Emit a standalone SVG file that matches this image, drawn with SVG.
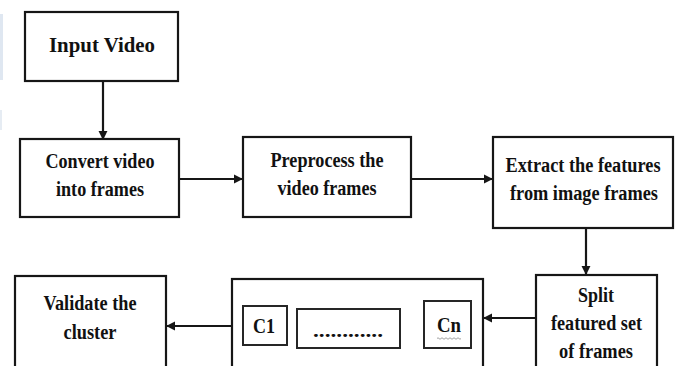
<svg xmlns="http://www.w3.org/2000/svg" width="680" height="366" viewBox="0 0 680 366">
  <style>
    .box { fill: #ffffff; stroke: #161616; stroke-width: 2.2; }
    .inner { fill: #ffffff; stroke: #262626; stroke-width: 2; }
    .lbl { font-family: 'Liberation Serif', 'DejaVu Serif', 'Noto Serif', serif; font-weight: bold; fill: #111111; text-anchor: middle; }
    .edge { fill: none; stroke: #161616; stroke-width: 2.2; }
  </style>
  <defs>
    <marker id="arrow" viewBox="0 0 10 10" refX="9" refY="5" markerWidth="4.2" markerHeight="4.2" orient="auto" markerUnits="strokeWidth">
      <path d="M0,0 L10,5 L0,10 z" fill="#161616"/>
    </marker>
  </defs>

  <rect width="680" height="366" fill="#ffffff"/>
  <!-- faint edge strip at the far left -->
  <rect x="0" y="14" width="3" height="66" fill="#dfe7f1"/>
  <rect x="0" y="110" width="2" height="20" fill="#e6ecf3"/>

  <g id="connectors">
    <line class="edge" x1="103" y1="81" x2="103" y2="139" marker-end="url(#arrow)"/>
    <line class="edge" x1="180" y1="179" x2="242" y2="179" marker-end="url(#arrow)"/>
    <line class="edge" x1="411" y1="179" x2="492" y2="179" marker-end="url(#arrow)"/>
    <line class="edge" x1="586" y1="228" x2="586" y2="274" marker-end="url(#arrow)"/>
    <line class="edge" x1="536" y1="318" x2="484" y2="318" marker-end="url(#arrow)"/>
    <line class="edge" x1="232" y1="326" x2="167" y2="326" marker-end="url(#arrow)"/>
  </g>

  <g id="input-video">
    <rect class="box" x="25" y="12" width="153" height="69"/>
    <text class="lbl" x="102" y="52" font-size="22" textLength="106" lengthAdjust="spacingAndGlyphs">Input Video</text>
  </g>

  <g id="convert-frames">
    <rect class="box" x="20" y="139" width="159" height="78"/>
    <text class="lbl" x="100" y="168" font-size="20.5" textLength="109" lengthAdjust="spacingAndGlyphs">Convert video</text>
    <text class="lbl" x="100" y="196" font-size="20.5" textLength="88" lengthAdjust="spacingAndGlyphs">into frames</text>
  </g>

  <g id="preprocess">
    <rect class="box" x="243" y="137" width="168" height="80"/>
    <text class="lbl" x="327" y="167" font-size="20.5" textLength="113" lengthAdjust="spacingAndGlyphs">Preprocess the</text>
    <text class="lbl" x="327" y="195" font-size="20.5" textLength="99" lengthAdjust="spacingAndGlyphs">video frames</text>
  </g>

  <g id="extract-features">
    <rect class="box" x="493" y="137" width="180" height="91"/>
    <text class="lbl" x="583" y="172" font-size="20" textLength="155" lengthAdjust="spacingAndGlyphs">Extract the features</text>
    <text class="lbl" x="584" y="200" font-size="20" textLength="148" lengthAdjust="spacingAndGlyphs">from image frames</text>
  </g>

  <g id="split-frames">
    <rect class="box" x="536" y="275" width="121" height="100"/>
    <text class="lbl" x="596" y="302" font-size="20" textLength="36" lengthAdjust="spacingAndGlyphs">Split</text>
    <text class="lbl" x="596.5" y="330" font-size="20" textLength="91" lengthAdjust="spacingAndGlyphs">featured set</text>
    <text class="lbl" x="596" y="358" font-size="20" textLength="74" lengthAdjust="spacingAndGlyphs">of frames</text>
  </g>

  <g id="clusters">
    <rect class="box" x="232" y="279" width="251" height="96"/>
    <g id="cluster-c1">
      <rect class="inner" x="243" y="306" width="44" height="39"/>
      <text class="lbl" x="264" y="333" font-size="20.5" textLength="22" lengthAdjust="spacingAndGlyphs">C1</text>
    </g>
    <g id="cluster-more">
      <rect class="inner" x="297" y="309" width="103" height="39"/>
      <text class="lbl" x="348" y="337" font-size="18" textLength="70" lengthAdjust="spacingAndGlyphs">............</text>
    </g>
    <g id="cluster-cn">
      <rect class="inner" x="424" y="301" width="47" height="47"/>
      <text class="lbl" x="449" y="332" font-size="20.5" textLength="24" lengthAdjust="spacingAndGlyphs">Cn</text>
      <path d="M437,338.5 q1,-1.5 2,0 t2,0 t2,0 t2,0 t2,0 t2,0 t2,0 t2,0 t2,0 t2,0 t2,0 t2,0" fill="none" stroke="#8a8a8a" stroke-width="0.8"/>
    </g>
  </g>

  <g id="validate-cluster">
    <rect class="box" x="15" y="276" width="151" height="99"/>
    <text class="lbl" x="90" y="310" font-size="20" textLength="93" lengthAdjust="spacingAndGlyphs">Validate the</text>
    <text class="lbl" x="90" y="339" font-size="20" textLength="53" lengthAdjust="spacingAndGlyphs">cluster</text>
  </g>
</svg>
